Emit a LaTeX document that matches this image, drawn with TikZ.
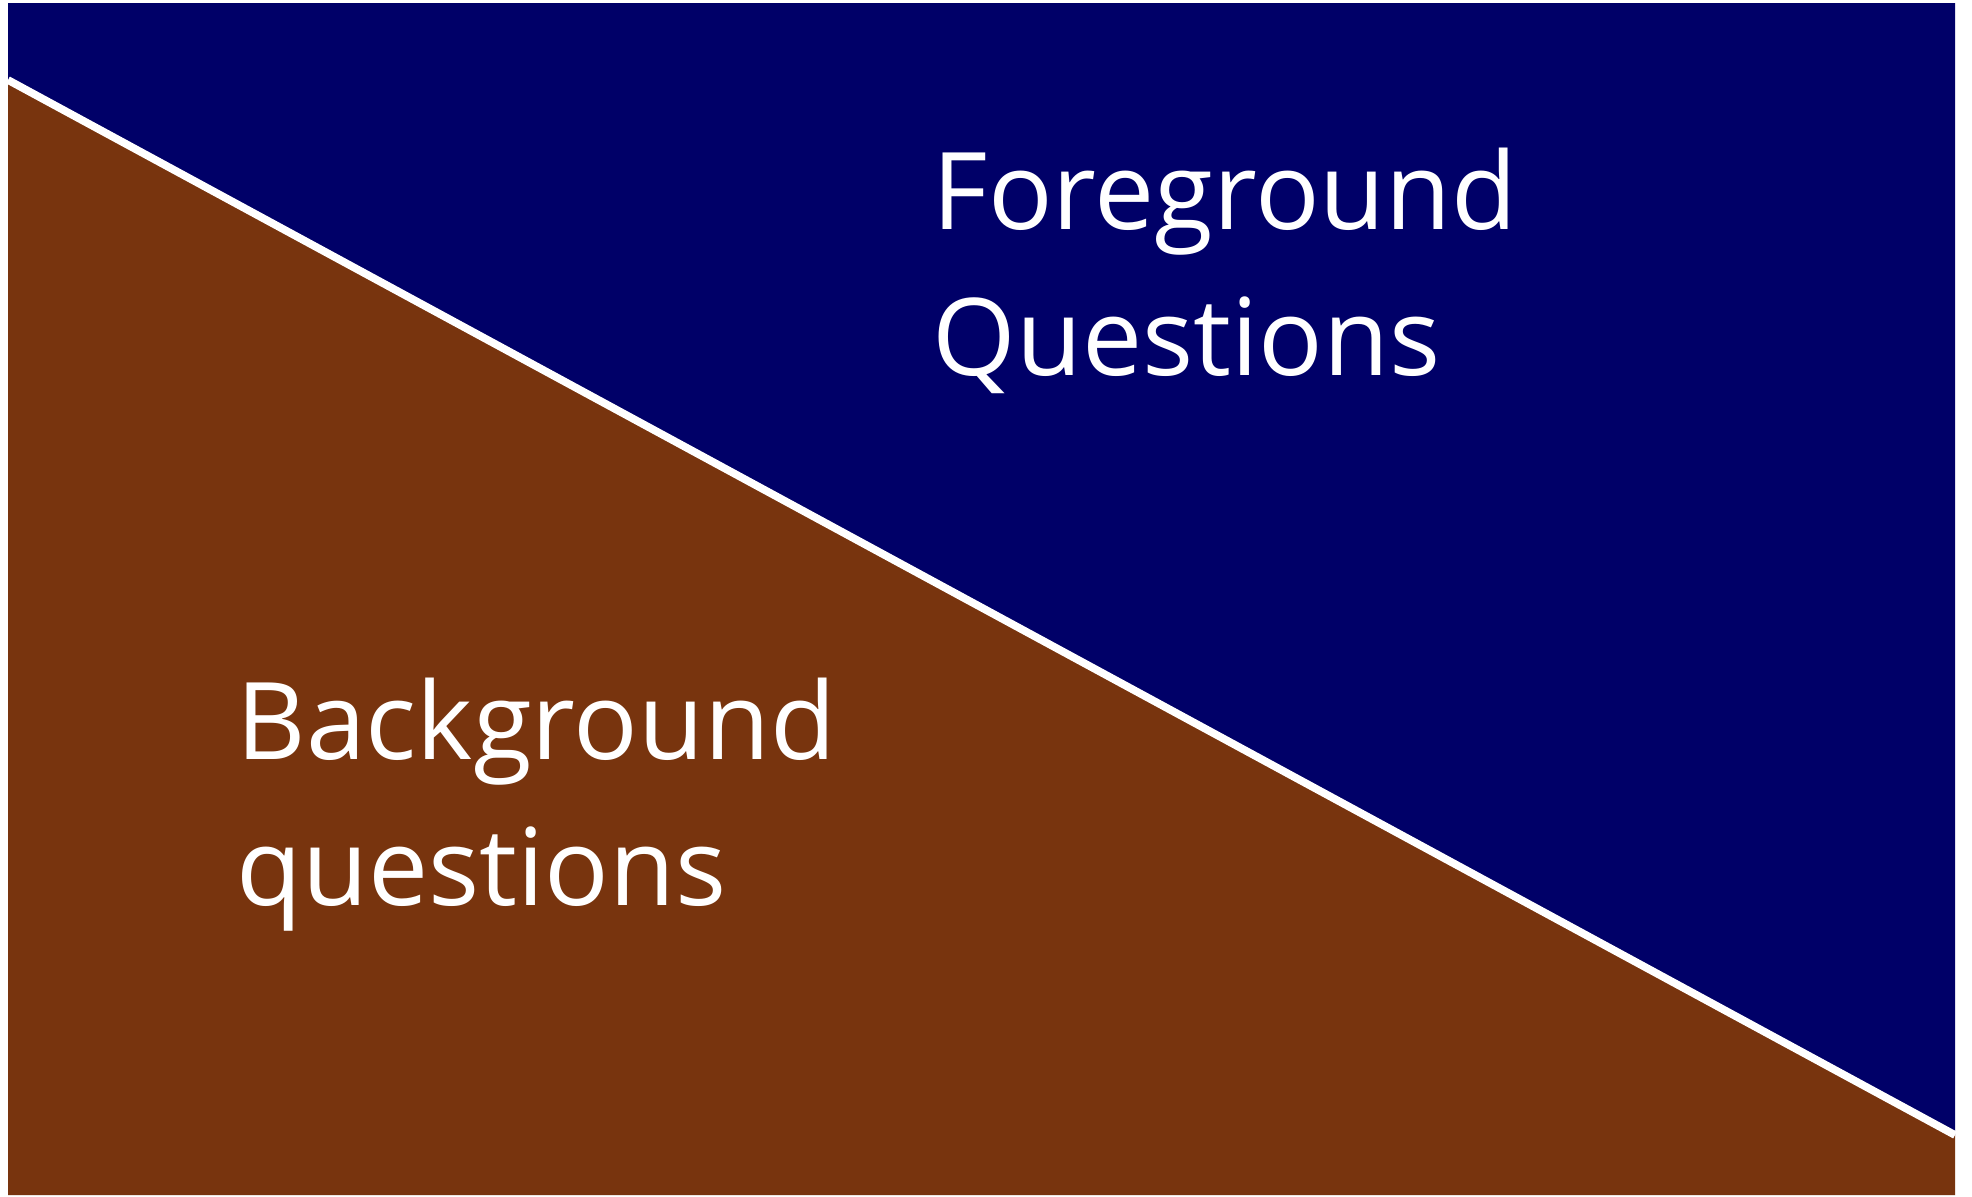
\documentclass[tikz,border=0pt]{standalone}
\usepackage{fontspec}
\setmainfont{Open Sans}
\usepackage{tikz}
\usepackage{xcolor}
\definecolor{Navy}{HTML}{000068}
\definecolor{Rust}{HTML}{78340E}
\begin{document}
\begin{tikzpicture}[
  x=0.01cm,y=-0.01cm,
  region/.style={draw=none},
  divider/.style={draw=white,line width=2.2pt},
  label/.style={text=white,anchor=base west,align=left,inner sep=0pt,font=\fontsize{30.5}{41.5}\selectfont}
]
\useasboundingbox (0,0) rectangle (1972,1196);
\fill[white] (0,0) rectangle (1972,1196);
\coordinate (tl) at (8,3);
\coordinate (tr) at (1955,3);
\coordinate (bl) at (8,1195);
\coordinate (br) at (1955,1195);
\coordinate (cutl) at (8,80);
\coordinate (cutr) at (1955,1135);
\fill[region,Navy] (tl) -- (tr) -- (cutr) -- (cutl) -- cycle;
\fill[region,Rust] (cutl) -- (cutr) -- (br) -- (bl) -- cycle;
\draw[divider] (cutl) -- (cutr);
\node[label] (fg) at (932,375) {Foreground\\Questions};
\node[label] (bg) at (236,905) {Background\\questions};
\end{tikzpicture}
\end{document}
